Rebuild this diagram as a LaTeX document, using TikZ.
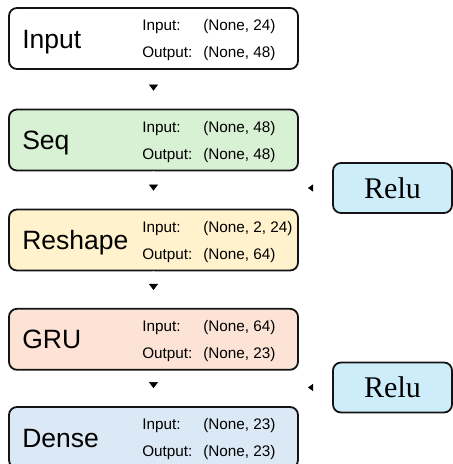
\documentclass[tikz,border=0pt]{standalone}
\usepackage{fontspec}
\setmainfont{Liberation Sans}
\newfontfamily\reluface{Liberation Serif}
\usepackage{xcolor}
\usepackage{tikz}
\usetikzlibrary{calc,arrows.meta}
\definecolor{seqfill}{RGB}{216, 240, 211}
\definecolor{reshapefill}{RGB}{255, 242, 204}
\definecolor{grufill}{RGB}{252, 227, 214}
\definecolor{densefill}{RGB}{219, 232, 246}
\definecolor{relufill}{RGB}{206, 237, 250}
\definecolor{edge}{RGB}{20, 20, 20}

\tikzset{
  layer/.style={draw=edge, line width=1.8pt, rounded corners=8pt, minimum width=289pt, minimum height=61pt, inner sep=0pt},
  actbox/.style={draw=edge, line width=1.8pt, rounded corners=8pt, minimum width=119pt, minimum height=50pt, inner sep=0pt, text height=20pt, text depth=0pt, font=\reluface\fontsize{30}{32}\selectfont},
  title/.style={anchor=west, inner sep=0pt, text height=19pt, text depth=0pt, font=\fontsize{26.5}{28}\selectfont},
  info/.style={anchor=west, inner sep=0pt, text height=11pt, text depth=0pt, font=\fontsize{15.3}{17}\selectfont},
  flow/.style={draw=white, -{Triangle[color=black, width=9pt, length=6pt]}, shorten >=18pt},
  side/.style={draw=white, -{Triangle[color=black, width=7pt, length=5pt]}}
}

\begin{document}
\begin{tikzpicture}[x=1pt, y=-1pt]
  \useasboundingbox (0,0) rectangle (453,464);
  % Layers
  \node[layer, fill=white] (input) at (153.5, 38.5) {};
  \node[title] at ($(input.west) + (14, 0)$) {Input};
  \node[info] at ($(input.west) + (134, -13.5)$) {Input:};
  \node[info] at ($(input.west) + (195, -13.5)$) {(None, 24)};
  \node[info] at ($(input.west) + (134, 13.5)$) {Output:};
  \node[info] at ($(input.west) + (195, 13.5)$) {(None, 48)};

  \node[layer, fill=seqfill] (seq) at (153.5, 140) {};
  \node[title] at ($(seq.west) + (14, 0)$) {Seq};
  \node[info] at ($(seq.west) + (134, -13.5)$) {Input:};
  \node[info] at ($(seq.west) + (195, -13.5)$) {(None, 48)};
  \node[info] at ($(seq.west) + (134, 13.5)$) {Output:};
  \node[info] at ($(seq.west) + (195, 13.5)$) {(None, 48)};

  \node[layer, fill=reshapefill] (reshape) at (153.5, 240) {};
  \node[title] at ($(reshape.west) + (14, 0)$) {Reshape};
  \node[info] at ($(reshape.west) + (134, -13.5)$) {Input:};
  \node[info] at ($(reshape.west) + (195, -13.5)$) {(None, 2, 24)};
  \node[info] at ($(reshape.west) + (134, 13.5)$) {Output:};
  \node[info] at ($(reshape.west) + (195, 13.5)$) {(None, 64)};

  \node[layer, fill=grufill] (gru) at (153.5, 339.3) {};
  \node[title] at ($(gru.west) + (14, 0)$) {GRU};
  \node[info] at ($(gru.west) + (134, -13.5)$) {Input:};
  \node[info] at ($(gru.west) + (195, -13.5)$) {(None, 64)};
  \node[info] at ($(gru.west) + (134, 13.5)$) {Output:};
  \node[info] at ($(gru.west) + (195, 13.5)$) {(None, 23)};

  \node[layer, fill=densefill] (dense) at (153.5, 437.5) {};
  \node[title] at ($(dense.west) + (14, 0)$) {Dense};
  \node[info] at ($(dense.west) + (134, -13.5)$) {Input:};
  \node[info] at ($(dense.west) + (195, -13.5)$) {(None, 23)};
  \node[info] at ($(dense.west) + (134, 13.5)$) {Output:};
  \node[info] at ($(dense.west) + (195, 13.5)$) {(None, 23)};

  % Activations
  \node[actbox, fill=relufill] (relu1) at (392.5, 188) {Relu};
  \node[actbox, fill=relufill] (relu2) at (392.5, 387.5) {Relu};
  \coordinate (act1) at (308, 188);
  \coordinate (act2) at (308, 387.5);

  % Flow between layers
  \draw[flow] (input) -- (seq);
  \draw[flow] (seq) -- (reshape);
  \draw[flow] (reshape) -- (gru);
  \draw[flow] (gru) -- (dense);
  \draw[side] (relu1) -- (act1);
  \draw[side] (relu2) -- (act2);
\end{tikzpicture}
\end{document}
